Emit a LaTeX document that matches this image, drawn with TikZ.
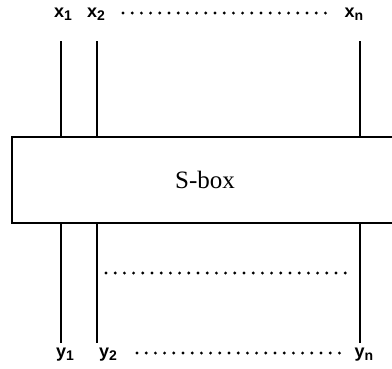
\documentclass[tikz,border=0pt]{standalone}
\usepackage{fontspec}
\setmainfont{Liberation Serif}
\newfontfamily\pinfont{Liberation Sans}
\usepackage{tikz}
\usetikzlibrary{positioning}
\newcommand{\pinlabel}[2]{#1\raisebox{-0.3ex}{\fontsize{14}{16}\selectfont #2}}

\begin{document}
\begin{tikzpicture}[
  x=1pt,y=-1pt,
  wire/.style={line width=1.4pt},
  dots/.style={line width=3.2pt,line cap=round,dash pattern=on 0pt off 9.2pt},
  lbl/.style={inner sep=0pt,font=\pinfont\fontsize{18}{20}\selectfont\bfseries}
]
  \useasboundingbox (0,0) rectangle (392,368);
  \clip (0,0) rectangle (392,368);
  % inputs and outputs
  \node[lbl] (x1) at (63,14) {\pinlabel{x}{1}};
  \node[lbl] (x2) at (96,14) {\pinlabel{x}{2}};
  \node[lbl] (xn) at (354,14) {\pinlabel{x}{n}};
  \node[lbl] (y1) at (65,355) {\pinlabel{y}{1}};
  \node[lbl] (y2) at (108,355) {\pinlabel{y}{2}};
  \node[lbl] (yn) at (364,355) {\pinlabel{y}{n}};
  % the box itself
  \node[draw,line width=1.4pt,minimum width=386pt,minimum height=86pt,
        font=\fontsize{25}{28}\selectfont] (sbox) at (205,180) {S-box};
  \coordinate (a1) at (61,41);
  \coordinate (a2) at (97,41);
  \coordinate (an) at (360,41);
  \coordinate (b1) at (61,343);
  \coordinate (b2) at (97,343);
  \coordinate (bn) at (360,343);
  \draw[wire] (a1) -- (a1 |- sbox.north);
  \draw[wire] (a2) -- (a2 |- sbox.north);
  \draw[wire] (an) -- (an |- sbox.north);
  \draw[wire] (b1 |- sbox.south) -- (b1);
  \draw[wire] (b2 |- sbox.south) -- (b2);
  \draw[wire] (bn |- sbox.south) -- (bn);
  % dotted rows
  \coordinate (t1) at (123,13);
  \coordinate (t2) at (330,13);
  \coordinate (m1) at (106,273);
  \coordinate (m2) at (349,273);
  \coordinate (u1) at (137,353);
  \coordinate (u2) at (341,353);
  \draw[dots] (t1) -- (t2);
  \draw[dots] (m1) -- (m2);
  \draw[dots] (u1) -- (u2);
\end{tikzpicture}
\end{document}
